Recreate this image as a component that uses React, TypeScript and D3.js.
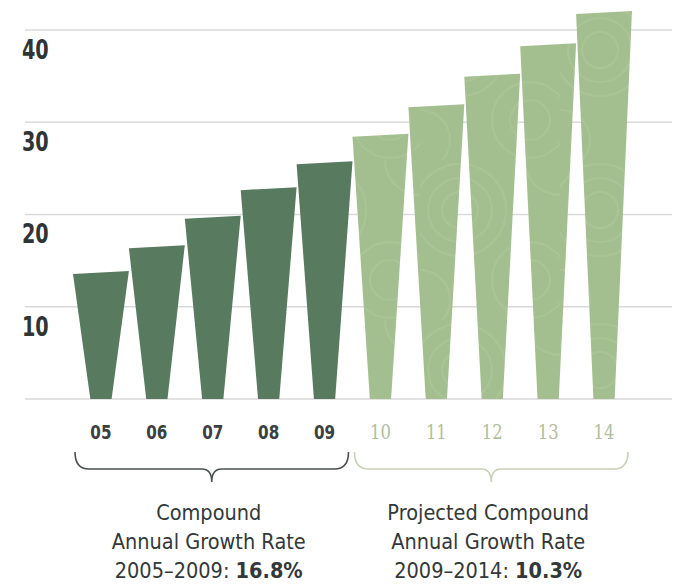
import { useEffect, useRef } from 'react'
import * as d3 from 'd3'

const years = ['05', '06', '07', '08', '09', '10', '11', '12', '13', '14']
const values = [13.7, 16.5, 19.7, 22.8, 25.6, 28.6, 31.8, 35.1, 38.4, 41.9]
const kinds = ['actual', 'actual', 'actual', 'actual', 'actual', 'projected', 'projected', 'projected', 'projected', 'projected']
const yTicks = [10, 20, 30, 40]

const groupRanges = [['05', '09'], ['10', '14']]
const groupTitles = [['Compound', 'Annual Growth Rate'], ['Projected Compound', 'Annual Growth Rate']]
const groupPeriods = ['2005–2009: ', '2009–2014: ']
const groupRates = ['16.8%', '10.3%']

const W = 678
const H = 587
const SANS = '"DejaVu Sans", "Liberation Sans", sans-serif'
const SERIF = '"DejaVu Serif", "Liberation Serif", serif'

export default function App() {
  const ref = useRef<SVGSVGElement>(null)

  useEffect(() => {
    const svg = d3.select(ref.current)
    svg.selectAll('*').remove()

    const x = d3.scaleBand().domain(years).range([73, 632]).padding(0)
    const y = d3.scaleLinear().domain([0, 40]).range([399, 30])
    const bw = x.bandwidth()
    const bottomW = bw * 0.38

    // faint swirl pattern for projected bars
    const defs = svg.append('defs')
    const pat = defs.append('pattern')
      .attr('id', 'swirl')
      .attr('patternUnits', 'userSpaceOnUse')
      .attr('width', 140).attr('height', 160)
    pat.append('rect').attr('width', 140).attr('height', 160).attr('fill', '#a4bf8f')
    const arcs = [[40, 50, 18], [40, 50, 32], [40, 50, 46], [110, 120, 20], [110, 120, 38], [0, 140, 30], [140, 0, 35]]
    arcs.forEach(([cx, cy, r]) => {
      pat.append('circle').attr('cx', cx).attr('cy', cy).attr('r', r)
        .attr('fill', 'none').attr('stroke', '#b3cb9f').attr('stroke-width', 2).attr('opacity', 0.4)
    })

    // grid lines
    svg.append('g')
      .selectAll('line')
      .data([0, ...yTicks])
      .join('line')
      .attr('x1', 25).attr('x2', 672)
      .attr('y1', d => y(d)).attr('y2', d => y(d))
      .attr('stroke', '#d9d9d9')
      .attr('stroke-width', 1.6)

    // y labels (below each line), squeezed to look condensed
    const sy = 0.74
    svg.append('g')
      .selectAll('text')
      .data(yTicks)
      .join('text')
      .attr('transform', `scale(${sy},1)`)
      .attr('x', 22 / sy)
      .attr('y', d => y(d) + 29)
      .style('font-family', SANS)
      .style('font-weight', 'bold')
      .style('font-size', '26px')
      .style('fill', '#2f3434')
      .text(d => d)

    // tapered bars
    const tilt = 1.5
    svg.append('g')
      .selectAll('path')
      .data(years.map((yr, i) => ({ yr, v: values[i], kind: kinds[i] })))
      .join('path')
      .attr('d', d => {
        const x0 = x(d.yr)!
        const cx = x0 + bw / 2
        const top = y(d.v)
        const base = y(0)
        return `M${x0},${top + tilt}L${x0 + bw},${top - tilt}L${cx + bottomW / 2},${base}L${cx - bottomW / 2},${base}Z`
      })
      .attr('fill', d => (d.kind === 'actual' ? '#587a5f' : 'url(#swirl)'))

    // year labels
    const sx = (k: string) => (k === 'actual' ? 0.76 : 0.82)
    svg.append('g')
      .selectAll('text')
      .data(years.map((yr, i) => ({ yr, kind: kinds[i] })))
      .join('text')
      .attr('transform', d => `scale(${sx(d.kind)},1)`)
      .attr('x', d => (x(d.yr)! + bw / 2) / sx(d.kind))
      .attr('y', 439)
      .attr('text-anchor', 'middle')
      .style('font-family', d => (d.kind === 'actual' ? SANS : SERIF))
      .style('font-weight', d => (d.kind === 'actual' ? 'bold' : 'normal'))
      .style('font-size', '20px')
      .style('fill', d => (d.kind === 'actual' ? '#3a4040' : '#b3bda0'))
      .text(d => d.yr)

    // braces + captions
    const sc = 0.88
    groupRanges.forEach(([a, b], gi) => {
      const x0 = x(a)! + 2
      const x1 = x(b)! + bw - 4
      const mid = (x0 + x1) / 2
      const yTop = 452
      const yLine = 469
      const yTip = 482
      const color = gi === 0 ? '#4a5050' : '#c8d0b6'
      svg.append('path')
        .attr('d', `M${x0},${yTop}Q${x0},${yLine} ${x0 + 14},${yLine}L${mid - 10},${yLine}Q${mid},${yLine} ${mid},${yTip}Q${mid},${yLine} ${mid + 10},${yLine}L${x1 - 14},${yLine}Q${x1},${yLine} ${x1},${yTop}`)
        .attr('fill', 'none')
        .attr('stroke', color)
        .attr('stroke-width', 1.6)

      const cx = (mid - 3) / sc
      const cap = svg.append('text')
        .attr('transform', `scale(${sc},1)`)
        .attr('text-anchor', 'middle')
        .style('font-family', SANS)
        .style('font-size', '22px')
        .style('fill', '#333838')
      groupTitles[gi].forEach((line, li) => {
        cap.append('tspan').attr('x', cx).attr('y', 520 + li * 29).text(line)
      })
      const last = cap.append('tspan').attr('x', cx).attr('y', 578)
      last.append('tspan').text(groupPeriods[gi])
      last.append('tspan').style('font-weight', 'bold').text(groupRates[gi])
    })
  }, [])

  return (
    <div style={{ position: 'absolute', left: 0, top: 0 }}>
      <svg ref={ref} width={W} height={H} style={{ display: 'block', background: '#fff' }} />
    </div>
  )
}
